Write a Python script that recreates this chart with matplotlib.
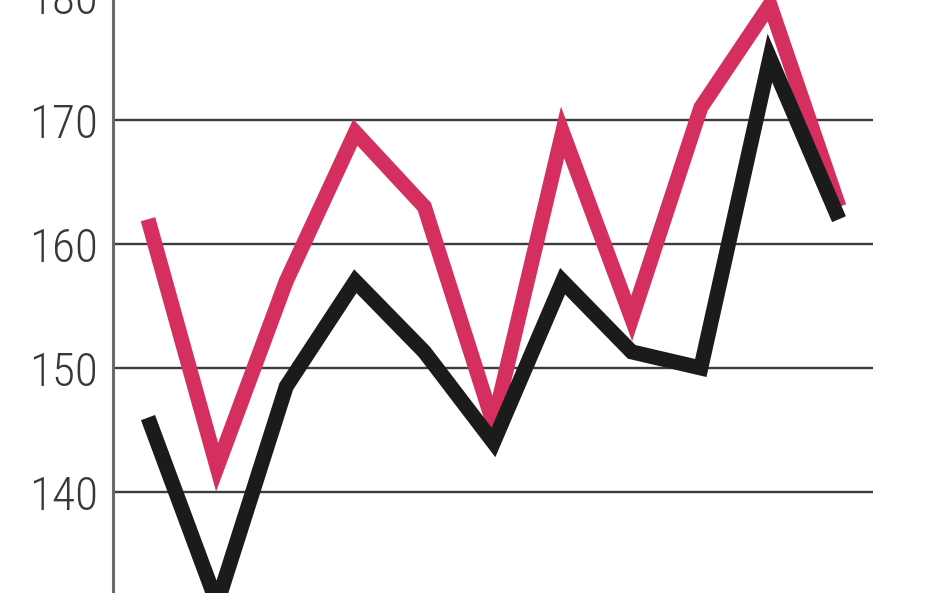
import matplotlib
matplotlib.use("Agg")
import matplotlib.pyplot as plt
from matplotlib import font_manager

# values (11 periods, x labels not shown)
periods = list(range(11))
red_vals = [162, 142, 157, 169, 163, 145.5, 169, 154, 171, 179.3, 163]
black_vals = [146, 131, 148.5, 157, 151.3, 144, 157, 151.3, 150, 175, 162]
yticks = [130, 140, 150, 160, 170, 180]

names = {f.name for f in font_manager.fontManager.ttflist}
# narrow face if there is one, else a plain sans at a smaller size
choice = None
for fam, size in [("Liberation Sans Narrow", 36), ("DejaVu Sans Condensed", 32),
                  ("Roboto Condensed", 34), ("Roboto", 31)]:
    if fam in names:
        choice = (fam, size)
        break
if choice is None:
    choice = ("DejaVu Sans", 28)

W, H = 948, 593
fig = plt.figure(figsize=(W / 100, H / 100), dpi=100)
# 170 sits at y=120 px, 140 at y=492 px -> 124 px per 10 units
px10 = 124.0
y130 = 492 + px10
y180 = 120 - px10
ax = fig.add_axes([113 / W, (H - y130) / H, (873 - 113) / W, (y130 - y180) / H])
ax.set_ylim(130, 180)
# x: first point at 148 px, spacing ~69 px
x0, dx = 148, 69.1
ax.set_xlim(-(x0 - 113) / dx, (873 - x0) / dx)

for y in [140, 150, 160, 170]:
    ax.axhline(y, color="#3c3c3c", lw=1.7, zorder=1)

ax.plot(periods, red_vals, color="#d52f5f", lw=10.8, solid_joinstyle="miter",
        solid_capstyle="butt", zorder=3)
ax.plot(periods, black_vals, color="#1b1b1b", lw=10.8, solid_joinstyle="miter",
        solid_capstyle="butt", zorder=4)

for s in ["top", "right", "bottom"]:
    ax.spines[s].set_visible(False)
ax.spines["left"].set_color("#6a6a6a")
ax.spines["left"].set_linewidth(2.2)
ax.set_xticks([])
ax.set_yticks(yticks)
ax.set_yticklabels([str(t) for t in yticks])
ax.tick_params(axis="y", length=0, pad=11, labelsize=choice[1],
               labelcolor="#383838")
for lbl in ax.get_yticklabels():
    lbl.set_family([choice[0], "DejaVu Sans"])
    lbl.set_fontweight("light")

fig.savefig("out.png", dpi=100)
